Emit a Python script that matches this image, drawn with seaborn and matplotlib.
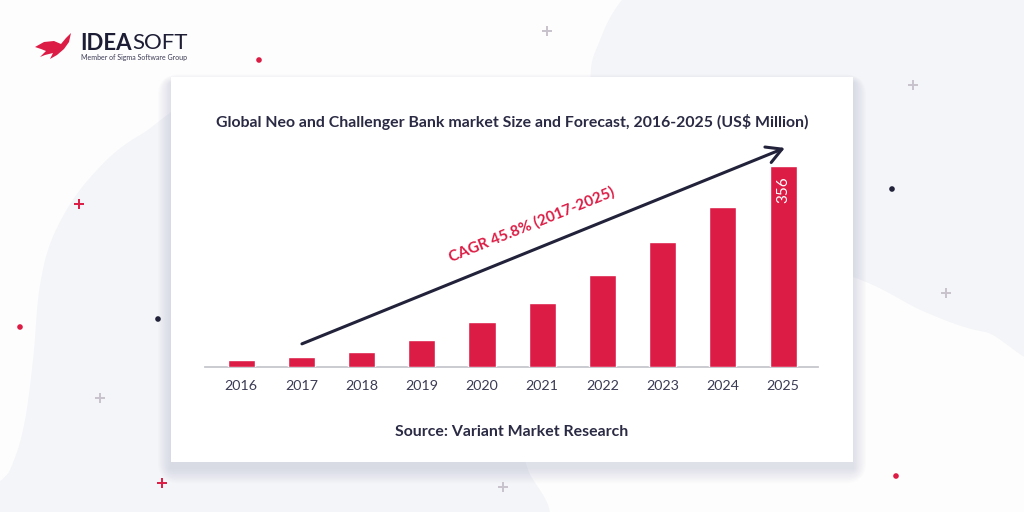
import numpy as np
import pandas as pd
import matplotlib
matplotlib.use("Agg")
import matplotlib.pyplot as plt
import seaborn as sns
from matplotlib.patches import Rectangle, Polygon, Circle, FancyBboxPatch

# ---------------- data ----------------
years = ["2016", "2017", "2018", "2019", "2020", "2021", "2022", "2023", "2024", "2025"]
market_size = [12, 17.5, 26, 47, 79, 114, 163, 222, 284, 356]
title_text = "Global Neo and Challenger Bank market Size and Forecast, 2016-2025 (US$ Million)"
source_text = "Source: Variant Market Research"
cagr_text = "CAGR 45.8% (2017-2025)"
last_label = "356"

RED = "#dc1c45"
NAVY = "#22223b"
TEXT = "#2a2a44"

sns.set_theme(style="white")
plt.rcParams['font.family'] = ['Lato', 'DejaVu Sans']

W, H = 1024, 512
fig = plt.figure(figsize=(10.24, 5.12), dpi=100)
fig.patch.set_facecolor("#fdfdfd")

# ---------------- background layer (pixel coords) ----------------
bg = fig.add_axes([0, 0, 1, 1])
bg.set_xlim(0, W)
bg.set_ylim(H, 0)
bg.axis("off")


def smooth_closed(pts, n=20):
    pts = np.asarray(pts, float)
    out = []
    m = len(pts)
    for i in range(m):
        p0, p1, p2, p3 = pts[i - 1], pts[i], pts[(i + 1) % m], pts[(i + 2) % m]
        for t in np.linspace(0, 1, n, endpoint=False):
            t2, t3 = t * t, t * t * t
            out.append(0.5 * ((2 * p1) + (-p0 + p2) * t + (2 * p0 - 5 * p1 + 4 * p2 - p3) * t2
                              + (-p0 + 3 * p1 - 3 * p2 + p3) * t3))
    return np.array(out)

blob_col = "#f4f5f8"
left_blob = [(230, 100), (140, 135), (88, 180), (55, 232), (40, 285), (33, 360), (24, 425),
             (10, 470), (-20, 530), (300, 540), (533, 530), (528, 470), (500, 430), (350, 250)]
bg.add_patch(Polygon(smooth_closed(left_blob), closed=True, color=blob_col, lw=0, zorder=0))
tr_blob = [(660, -30), (622, 0), (600, 40), (591, 82), (610, 170), (720, 240), (853, 277),
           (925, 312), (985, 332), (1060, 336), (1060, -30)]
bg.add_patch(Polygon(smooth_closed(tr_blob), closed=True, color=blob_col, lw=0, zorder=0))

# card shadow
cx0, cy0, cw, ch = 171, 77, 682, 385
for i in range(10):
    pad = 2 + i * 2.2
    bg.add_patch(FancyBboxPatch((cx0 - pad * 0.6, cy0 + 6 - pad * 0.4), cw + pad * 1.2, ch + pad * 1.1,
                                boxstyle="round,pad=0,rounding_size=%f" % (pad),
                                color="#8a90a8", alpha=0.022, lw=0, zorder=1))
bg.add_patch(Rectangle((cx0, cy0), cw, ch, color="white", lw=0, zorder=2))

# decorations
def plus(x, y, c, s=5, lw=1.4):
    bg.plot([x - s, x + s], [y, y], color=c, lw=lw, solid_capstyle="butt", zorder=3)
    bg.plot([x, x], [y - s, y + s], color=c, lw=lw, solid_capstyle="butt", zorder=3)

GRAYP = "#c8c2cc"
plus(547, 31, GRAYP)
plus(913, 85, GRAYP)
plus(79, 204, RED)
plus(946, 293, GRAYP)
plus(100, 398, GRAYP)
plus(162, 483, RED)
plus(503, 487, GRAYP)
for (x, y, c) in [(259, 60, RED), (20, 327, RED), (158, 319, NAVY), (892, 189, NAVY), (896, 476, RED)]:
    bg.add_patch(Circle((x, y), 2.8, color=c, lw=0, zorder=3))

# logo
bird = [(35, 47), (44, 42), (54, 41), (61, 44), (66, 38), (71, 33), (69, 42), (64, 49),
        (57, 55), (50, 59), (53, 53), (45, 55), (40, 57), (46, 51), (41, 49)]
bg.add_patch(Polygon(bird, closed=True, color=RED, lw=0, zorder=3))
t_idea = bg.text(80, 43, "IDEA", fontsize=16, fontweight="bold", color="#1d1d35",
                 va="center", ha="left", zorder=4)
fig.canvas.draw()
bb = t_idea.get_window_extent()
idea_right = bb.x1  # display pixels == image pixels at dpi 100
bg.text(idea_right + 0.5, 43, "SOFT", fontsize=16, fontweight="normal", color="#1d1d35",
        va="center", ha="left", zorder=4)
bg.text(81, 57.5, "Member of Sigma Software Group", fontsize=5.0, color="#3b3b55",
        va="center", ha="left", zorder=4)

# title & source
bg.text(512, 122, title_text, fontsize=11.4, fontweight="bold", color=TEXT, ha="center", va="center", zorder=4)
bg.text(512, 432, source_text, fontsize=11.4, fontweight="bold", color=TEXT, ha="center", va="center", zorder=4)

# ---------------- chart axes ----------------
ax_left, ax_right, base_y, top_y = 205, 818, 367, 100
ax = fig.add_axes([ax_left / W, (H - base_y) / H, (ax_right - ax_left) / W, (base_y - top_y) / H])
ax.set_facecolor("none")
df = pd.DataFrame({"year": years, "size": market_size})
sns.barplot(data=df, x="year", y="size", color=RED, width=0.45, saturation=1, ax=ax, zorder=3)
ax.set_xlim(-0.6, 9.58)
ax.set_ylim(0, max(market_size) * (base_y - top_y) / 201)
ax.set_xlabel("")
ax.set_ylabel("")
ax.set_yticks([])
for s in ["left", "right", "top"]:
    ax.spines[s].set_visible(False)
ax.spines["bottom"].set_color("#c6c6ce")
ax.spines["bottom"].set_linewidth(1.3)
ax.tick_params(axis="x", length=0, pad=9, labelsize=10.3, labelcolor="#3b3b55")

# value label on last bar
ax.annotate(last_label, xy=(len(years) - 1, market_size[-1]), xytext=(0, -24),
            textcoords="offset pixels", rotation=90, ha="center", va="center",
            color="white", fontsize=11, zorder=5)

# growth arrow and CAGR text
ax.annotate("", xy=(9.03, 388), xytext=(1.01, 41),
            arrowprops=dict(arrowstyle="->,head_length=0.9,head_width=0.5", lw=2.2, color=NAVY,
                            shrinkA=0, shrinkB=0),
            annotation_clip=False, zorder=6)
ax.text(4.83, 252, cagr_text, rotation=22, rotation_mode="anchor", ha="center", va="center",
        color=RED, fontsize=11, fontweight="bold", zorder=6, clip_on=False)

fig.savefig("out.png", dpi=100, facecolor=fig.get_facecolor())
